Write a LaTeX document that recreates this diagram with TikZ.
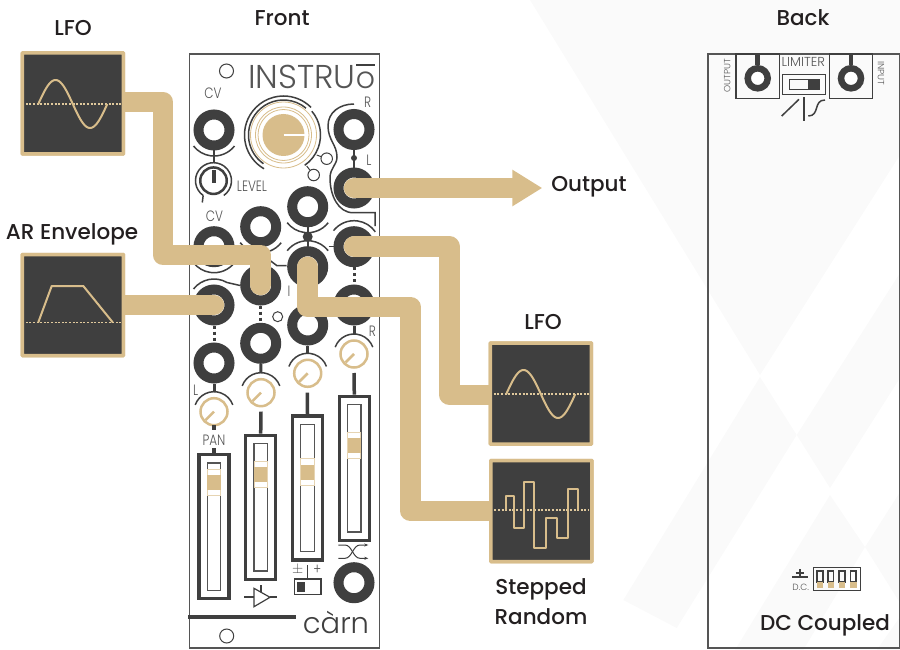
\documentclass[tikz,border=0pt]{standalone}
\usepackage{fontspec}
\setmainfont{Poppins}
\newfontfamily\thinfont{Poppins Light}
\newfontfamily\narrowfont{Poppins Light}[FakeStretch=0.8]
\newfontfamily\medfont{Poppins Medium}
\usetikzlibrary{arrows.meta, shapes, calc, positioning}
\definecolor{gold}{HTML}{D8BD8B}
\definecolor{goldlt}{HTML}{E6D4B2}
\definecolor{golddot}{HTML}{E0C99D}
\definecolor{panel}{HTML}{3F3F3F}
\definecolor{ink}{HTML}{231F20}
\definecolor{panelgray}{HTML}{555555}
\definecolor{facet}{HTML}{FAFAFA}
\tikzset{
  biglabel/.style={font=\medfont\fontsize{21.5}{30}\selectfont, text=ink, align=center, inner sep=0pt},
  paneltext/.style={font=\narrowfont\fontsize{15}{17}\selectfont, text=panelgray, inner sep=0pt},
  tinytext/.style={font=\thinfont\fontsize{9}{10}\selectfont, text=panelgray, inner sep=0pt},
  jack/.style={circle, draw=panel, line width=10pt, fill=white, minimum size=31pt, inner sep=0pt},
  hole/.style={circle, draw=panel, line width=1pt, fill=white, inner sep=0pt, minimum size=14pt},
  holelet/.style={hole, minimum size=11.5pt},
  pot/.style={circle, draw=gold, line width=2.5pt, fill=white, inner sep=0pt, minimum size=27pt},
  wire/.style={draw=panel, line width=1.5pt},
  stem/.style={draw=panel, line width=3.5pt},
  dotted link/.style={draw=panel, line width=3pt, dash pattern=on 3pt off 3pt},
  slider/.style={rectangle, draw=panel, line width=3.5pt, fill=white, minimum width=30pt, minimum height=144pt, inner sep=0pt},
  track/.style={rectangle, draw=panelgray, line width=1.2pt, fill=white, minimum width=13.3pt, minimum height=127.3pt, inner sep=0pt},
  slidercap/.style={rectangle, draw=goldlt, line width=1pt, fill=white, minimum width=13.3pt, minimum height=26.4pt, inner sep=0pt},
  capfill/.style={rectangle, fill=gold, minimum width=13.3pt, minimum height=15pt, inner sep=0pt},
  cable/.style={draw=gold, line width=20.5pt, line cap=round, line join=round},
  scopebox/.style={rectangle, draw=gold, line width=3.5pt, fill=panel, minimum width=101pt, minimum height=101pt, inner sep=0pt, rounded corners=0.5pt},
  wave/.style={draw=gold, line width=2pt, line join=round},
  zeroline/.style={draw=golddot, line width=1.2pt, dash pattern=on 2pt off 1.6pt},
}

\begin{document}
\begin{tikzpicture}[x=1pt, y=-1pt]
  \useasboundingbox (0,0) rectangle (900,650);

  % faint background facets
  \begin{scope}[facet]
    \fill (530,0) -- (900,0) -- (900,155) -- (760,375) -- cycle;
    \fill (796.7,435) -- (900,273) -- (900,378) -- (830,488) -- cycle;
    \fill (760,377) -- (796.7,435) -- (676.7,628) -- (623.3,600) -- cycle;
    \fill (830,495) -- (865,547) -- (803.3,650) -- (735,650) -- cycle;
    \fill (865,547) -- (900,492) -- (900,603) -- cycle;
    \fill (876.7,650) -- (900,617) -- (900,650) -- cycle;
  \end{scope}

  % headings
  \node[biglabel] (front) at (282,18) {Front};
  \node[biglabel] (back) at (803,17.5) {Back};
  \node[biglabel] (lfolabela) at (73,28) {LFO};
  \node[biglabel] (envlabel) at (72,234.5) {AR Envelope};
  \node[biglabel] (lfolabelb) at (543,322) {LFO};
  \node[biglabel] (output) at (589,186.5) {Output};
  \node[biglabel] (randlabel) at (541,602) {Stepped\\Random};
  \node[biglabel] (dclabel) at (825,625.5) {DC Coupled};

  % front panel
  \draw[draw=panelgray, line width=1.5pt, fill=white] (189.5,54) rectangle (379.5,648);
  \node[hole] (holea) at (226.5,71) {};
  \node[hole] (holeb) at (226.7,636) {};
  \node[anchor=west, inner sep=0pt, text=panelgray, font=\thinfont\fontsize{33}{35}\selectfont] (brand) at (248,76.5) {INSTRU};
  \node[inner sep=0pt, text=panelgray, font=\thinfont\fontsize{30}{32}\selectfont] (brando) at (365.5,80) {o};
  \draw[draw=panel, line width=2pt] (356,65) -- (375,65);
  \node[inner sep=0pt, text=panel, font=\thinfont\fontsize{29}{31}\selectfont] (maker) at (336,622) {càrn};

  % stems under the jacks
  \draw[wire, line width=2pt] (354,129.5) -- (354,188);
  \draw[wire, line width=2pt] (307.7,206.7) -- (307.7,266.7);
  \fill[panel] (354,158) circle (3);
  \fill[panel] (307.7,236.7) circle (5);

  % patch points
  \foreach \jname/\jx/\jy in {cva/214/130, cvb/214/246.7, jla/214/305, jlb/214/363,
      jma/260.7/226.7, jmb/260.7/285, jmc/260.7/343.3,
      jra/307.7/206.7, jrb/307.7/266.7, jrc/307.7/325,
      outr/354/129.5, outl/354/188, jsa/354/246.7, jsb/354/305, jsc/354/582.7}
    \node[jack] (\jname) at (\jx,\jy) {};

  \draw[dotted link] (jla.south) -- (jlb.north);
  \draw[dotted link] (jmb.south) -- (jmc.north);
  \draw[dotted link] (jsa.south) -- (jsb.north);

  % thin traces round the jacks
  \foreach \jname in {cva, cvb, jma, jra}
    \draw[wire] (\jname) ++(38:26) arc[start angle=38, end angle=142, radius=26];
  \draw[wire] (jrb) ++(218:26) arc[start angle=218, end angle=322, radius=26];
  \draw[wire] (jsa) ++(218:26) arc[start angle=218, end angle=325, radius=26];
  \draw[wire] (jla) ++(218:26) arc[start angle=218, end angle=300, radius=26] -- (240,285.5);
  \draw[wire] (268,259) -- (277,265.7) -- (286.5,265.7);
  \draw[wire] (328.5,246.7) -- (333.5,246.7);
  \draw[wire] (354,104) .. controls (340,104) and (328,112) .. (328,126)
    .. controls (328,140) and (337,145) .. (337,157)
    .. controls (337,165) and (330,168) .. (330,178)
    .. controls (330,195) and (338,212.7) .. (353,212.7) -- (375,212.7) -- (375,226);

  % big knob
  \node[circle, fill=gold, minimum size=42pt, inner sep=0pt] (bigknob) at (283.5,135) {};
  \draw[white, line width=2pt] (bigknob.center) -- (bigknob.east);
  \foreach \rr in {25.5, 28, 33}
    \draw[gold, line width=0.8pt] (bigknob) circle (\rr);
  \draw[wire] (bigknob) ++(120:39) arc[start angle=120, end angle=315, radius=39];
  \draw[wire] (bigknob) ++(125:35) arc[start angle=125, end angle=310, radius=35];
  \draw[wire] (bigknob) ++(-40:37) arc[start angle=-40, end angle=55, radius=37];
  \node[holelet] (holec) at (326.7,158.7) {};
  \node[holelet] (holed) at (313.7,175) {};
  \draw[wire, line width=1pt] (316.7,155) -- (holec);
  \draw[wire, line width=1pt] (306.7,166) -- (holed);
  \node[holelet, minimum size=10pt] (holee) at (277.7,316.7) {};

  % level knob
  \draw[wire, line width=2pt] (cva) -- (214,163);
  \node[circle, draw=panel, line width=2.5pt, fill=white, minimum size=26.5pt, inner sep=0pt] (level) at (213.5,180.7) {};
  \draw[stem] (214,170) -- (214,183);
  \draw[wire] (level) ++(125:18) arc[start angle=125, end angle=415, radius=18];
  \draw[wire] (level) ++(125:18) -- (202.3,202.5);

  % trim pots and their stems
  \foreach \pname/\jname/\px/\py in {pta/jlb/214/411.7, ptb/jmc/261/392.7, ptc/jrc/307.7/373.3, ptd/jsb/354/354} {
    \draw[stem, line width=3pt] (\jname) -- (\px,\py-20);
    \draw[wire] (\px,\py) ++(200:20) arc[start angle=200, end angle=340, radius=20];
    \node[pot] (\pname) at (\px,\py) {};
    \draw[gold, line width=2.5pt] (\pname.center) -- ++(-8.5,8.5);
  }

  % sliders
  \foreach \sname/\sx/\sy/\ky in {slda/214/526.7/482.5, sldb/260.7/507.3/474.3, sldc/307.5/487.8/472, sldd/354.3/468.3/445.7} {
    \node[slider] (\sname) at (\sx,\sy) {};
    \node[track] (\sname trk) at (\sx,\sy) {};
    \node[slidercap] (\sname cap) at (\sx,\ky) {};
    \node[capfill] (\sname fill) at (\sx,\ky) {};
  }
  \draw[stem] (214,425) -- (214,430);
  \draw[stem] (214,448) -- (slda.north);
  \draw[stem] (261,411.7) -- (sldb.north);
  \draw[stem] (307.3,392.7) -- (sldc.north);
  \draw[stem] (354,373) -- (sldd.north);

  % panel labels
  \node[paneltext] (cvlabela) at (213,93) {CV};
  \node[paneltext] (cvlabelb) at (214.5,216) {CV};
  \node[paneltext] (levellabel) at (252,186) {LEVEL};
  \node[paneltext] (rlabela) at (367.7,102) {R};
  \node[paneltext] (llabela) at (369,160.7) {L};
  \node[paneltext] (rlabelb) at (372.3,331) {R};
  \node[paneltext] (llabelb) at (195.7,390) {L};
  \node[paneltext] (ilabel) at (289,291.7) {I};
  \node[paneltext] (panlabel) at (214,440) {PAN};
  \node[paneltext] (pmlabel) at (297.7,570) {$\pm$};
  \node[paneltext] (pluslabel) at (317.3,570) {+};

  % bottom of the panel
  \draw[draw=panel, line width=1.5pt] (307.7,565) -- (307.7,579);
  \draw[draw=panel, line width=1.5pt, fill=white] (294.3,579) rectangle (321,594.3);
  \fill[panel] (297.3,581.7) rectangle (305,591.7);
  \draw[draw=panel, line width=1.2pt] (254,588.3) -- (270,597.3) -- (254,606.7) -- cycle;
  \draw[draw=panel, line width=1.2pt] (244,597) -- (254,597);
  \draw[draw=panel, line width=1.2pt] (270,597) -- (276.7,597);
  \draw[draw=panel, line width=1.2pt] (261,585) -- (261,592);
  \draw[draw=panel, line width=1pt, -{Stealth[length=4pt]}] (338.3,545) -- (345,545) .. controls (352,545) and (353,558.3) .. (360,558.3) -- (368.3,558.3);
  \draw[draw=panel, line width=1pt, -{Stealth[length=4pt]}] (338.3,558.3) -- (345,558.3) .. controls (352,558.3) and (353,545) .. (360,545) -- (368.3,545);
  \draw[draw=panel, line width=4pt] (188.3,616.7) -- (296,616.7);

  % cables
  \coordinate (benda) at (163,255);
  \coordinate (bendb) at (410.5,307);
  \coordinate (bendc) at (449.7,395);
  \coordinate (outtip) at (542.3,188);
  \node[scopebox] (lfoa) at (72.8,103.5) {};
  \node[scopebox] (env) at (72.8,305) {};
  \node[scopebox] (lfob) at (540.8,393.5) {};
  \node[scopebox] (rand) at (541.3,511) {};
  \draw[cable] ([yshift=1.5pt]lfoa.east) -| (benda) -| (jmb.center);
  \draw[cable] (env.east) -- (jla.center);
  \draw[cable, -{Triangle[length=30pt, width=34.5pt]}] (outl.center) -- (outtip);
  \draw[cable] (jsa.center) -| (bendc) -- (bendc -| lfob.west);
  \draw[cable] (jrb.center) |- (bendb) |- (rand.west);

  % signal boxes, drawn over the cable ends
  \foreach \bname/\bx/\by in {lfoa/72.8/103.5, env/72.8/305, lfob/540.8/393.5, rand/541.3/511}
    \node[scopebox] (\bname) at (\bx,\by) {};

  \begin{scope}[shift={(lfoa.center)}]
    \draw[zeroline] (-47,0.5) -- (48,0.5);
    \draw[wave] plot[domain=-34.5:34.5, samples=60, smooth] (\x,{0.5-24*sin(5.2174*(\x+34.5))});
  \end{scope}
  \begin{scope}[shift={(env.center)}]
    \draw[zeroline] (-47,17.3) -- (48,17.3);
    \draw[wave] (-34.5,17.3) -- (-21.1,-19) -- (10.5,-19) -- (39.9,17.3);
  \end{scope}
  \begin{scope}[shift={(lfob.center)}]
    \draw[zeroline] (-47,0.5) -- (48,0.5);
    \draw[wave] plot[domain=-34.5:34.5, samples=60, smooth] (\x,{0.5-24*sin(5.2174*(\x+34.5))});
  \end{scope}
  \begin{scope}[shift={(rand.center)}]
    \draw[zeroline] (-47,-1) -- (48,-1);
    \draw[wave] (-35.6,-1) -- (-35.6,-15.3) -- (-27,-15.3) -- (-27,16.7) -- (-17,16.7) -- (-17,-29.3)
      -- (-7,-29.3) -- (-7,36.7) -- (4.4,36.7) -- (4.4,7.3) -- (15.7,7.3) -- (15.7,27.3)
      -- (26.4,27.3) -- (26.4,-22) -- (37,-22) -- (37,-1);
  \end{scope}

  % back panel
  \draw[draw=panelgray, line width=1.5pt] (708,648) rectangle (899.5,54);
  \draw[draw=panel, line width=1.5pt] (736,54) rectangle (779.3,98.3);
  \draw[draw=panel, line width=1.5pt] (829.3,54) rectangle (872.7,98.3);
  \node[jack, line width=6.5pt, minimum size=20pt] (backout) at (757.7,78.3) {};
  \node[jack, line width=6.5pt, minimum size=20pt] (backin) at (851,78.3) {};
  \draw[draw=panel, line width=4.5pt] (backout.north) -- ++(0,-11);
  \draw[draw=panel, line width=4.5pt] (backin.north) -- ++(0,-11);
  \node[tinytext, rotate=90] (outlabel) at (727.3,76) {OUTPUT};
  \node[tinytext, rotate=-90] (inlabel) at (881,73.3) {INPUT};
  \node[paneltext, font=\thinfont\fontsize{13}{15}\selectfont] (limiter) at (803.3,62.3) {LIMITER};
  \draw[draw=panel, line width=1.5pt] (782.7,74.3) rectangle (825.7,94.3);
  \draw[draw=panel, line width=1pt] (789,79.3) rectangle (819.3,89.3);
  \fill[panel] (807.7,79.3) rectangle (819.3,89.3);
  \draw[draw=panel, line width=1.5pt] (781.7,116) -- (799,99.3);
  \draw[draw=panel, line width=1.5pt] (804,97.3) -- (804,120.7);
  \draw[draw=panel, line width=1.5pt] (808.3,116) .. controls (820,116) and (813,100) .. (825,100);

  % dc coupling switches
  \draw[draw=panel, line width=2pt] (792.3,577.3) -- (807.7,577.3);
  \draw[draw=panel, line width=2pt] (795.7,573.3) -- (804.3,573.3);
  \draw[draw=panel, line width=1.5pt] (800,569.3) -- (800,577.3);
  \node[tinytext] (dcmark) at (800.7,587.7) {D.C.};
  \draw[draw=panel, line width=1.5pt] (813.3,567.3) rectangle (860.7,590.7);
  \foreach \dx in {816.7, 827.5, 838.7, 850} {
    \draw[draw=panel, line width=1.5pt] (\dx+0.5,571) rectangle (\dx+6.2,582);
    \fill[gold] (\dx,581.7) rectangle (\dx+6.7,587.7);
  }
\end{tikzpicture}
\end{document}
